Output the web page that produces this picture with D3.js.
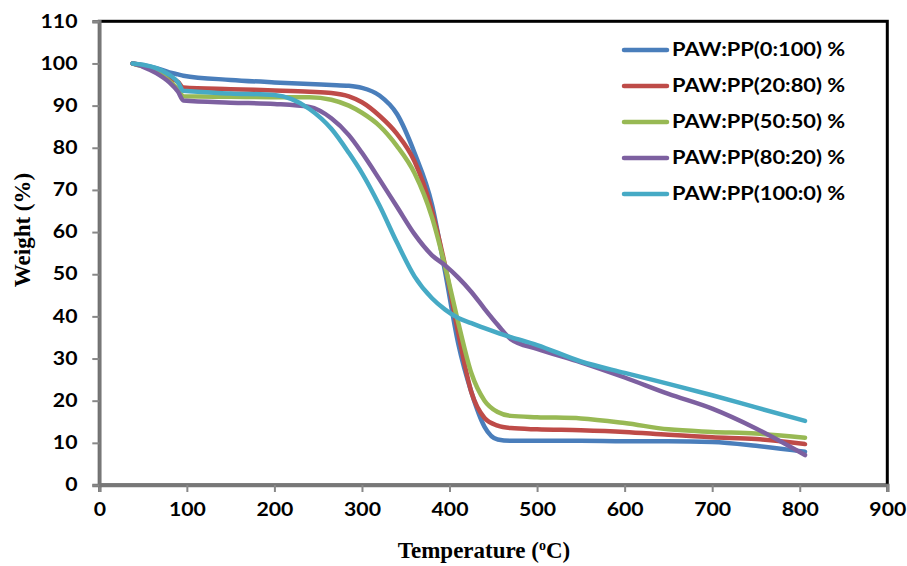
<!DOCTYPE html>
<html>
<head>
<meta charset="utf-8">
<script src="https://cdn.jsdelivr.net/npm/d3@7"></script>
<style>
    body { margin: 0; background: #fff; }
    svg { display: block; }
    .tick text { font-family: Lato, "Open Sans", sans-serif; font-weight: bold; font-size: 18px; fill: #000; }
    .legend text { font-family: Lato, "Open Sans", sans-serif; font-weight: bold; font-size: 18.5px; fill: #000; }
    .title { font-family: "Liberation Serif", "Times New Roman", serif; font-weight: bold; font-size: 23px; fill: #000; }
</style>
</head>
<body>
<div id="wrapper"></div>
<script>
// temperature (oC) sampled from the curves
const temps = [38, 50, 65, 80, 90, 96, 150, 200, 240, 265, 285, 300, 320, 340, 360, 380, 395,
    410, 425, 440, 455, 470, 500, 550, 600, 650, 700, 750, 806];

// weight (%) for each blend
const paw0 = [100, 99.6, 98.9, 97.9, 97.4, 97.1, 96.1, 95.5, 95.1, 94.9, 94.7, 94.2, 92.4, 88.0, 78.8, 66.5, 50.5,
    33.5, 22, 13.8, 10.8, 10.5, 10.5, 10.5, 10.4, 10.4, 10.2, 9.3, 7.9];
const paw20 = [100, 99.5, 98.3, 96.6, 95.6, 94.3, 93.9, 93.6, 93.3, 93.0, 92.2, 90.8, 87.6, 83.3, 76.8, 65, 52,
    36, 22, 15.9, 14.1, 13.5, 13.2, 13.0, 12.6, 11.9, 11.3, 10.9, 9.7];
const paw50 = [100, 99.3, 98.3, 95.8, 93.9, 92.2, 92.1, 92.0, 92.0, 91.4, 90.0, 88.3, 85.2, 80.4, 74, 63.5, 51.8,
    38.5, 26.5, 20, 17.3, 16.4, 16.1, 15.8, 14.7, 13.2, 12.6, 12.2, 11.2];
const paw80 = [100, 99.2, 97.7, 95.5, 93.3, 91.2, 90.7, 90.4, 89.7, 87, 83, 78.8, 72.5, 66, 59.5, 54.5, 52.1,
    49.2, 45.8, 41.8, 38.0, 34.6, 32.3, 29.1, 25.5, 21.6, 18.1, 13.4, 7.1];
const paw100 = [100, 99.7, 98.9, 97.3, 95.5, 93.5, 92.9, 92.5, 89.2, 84.5, 78.8, 74.0, 66.3, 57.5, 49.5, 44.3, 41.6,
    39.6, 38.4, 37.2, 36.1, 35.1, 33.2, 29.3, 26.6, 24.0, 21.3, 18.4, 15.2];

const seriesNames = ["PAW:PP(0:100) %", "PAW:PP(20:80) %", "PAW:PP(50:50) %", "PAW:PP(80:20) %", "PAW:PP(100:0) %"];
const seriesValues = [paw0, paw20, paw50, paw80, paw100];
const colors = ["#4a7ebb", "#be4b48", "#98b954", "#7d60a0", "#46aac5"];

const xTicks = d3.range(0, 901, 100);
const yTicks = d3.range(0, 111, 10);

// the original text is a little wide, stretch it
const stretch = 1.18;

var dimension = {
    width: 907,
    height: 566,
    margin: {
        top: 21.3,
        right: 19.7,
        bottom: 81,
        left: 99.3
    }
}
dimension.boundedWidth = dimension.width - dimension.margin.left - dimension.margin.right;
dimension.boundedHeight = dimension.height - dimension.margin.top - dimension.margin.bottom;

const x = d3.scaleLinear()
    .domain([0, 900])
    .range([dimension.margin.left, dimension.margin.left + dimension.boundedWidth]);
const y = d3.scaleLinear()
    .domain([0, 110])
    .range([dimension.margin.top + dimension.boundedHeight, dimension.margin.top]);

const svg = d3.select("#wrapper")
    .append("svg")
    .attr("width", dimension.width)
    .attr("height", dimension.height);

// plot frame (top/right black)
svg.append("rect")
    .attr("x", x(0))
    .attr("y", y(110))
    .attr("width", x(900) - x(0))
    .attr("height", y(0) - y(110))
    .attr("fill", "none")
    .attr("stroke", "#000")
    .attr("stroke-width", 3);

const xAxis = svg.append("g")
    .attr("transform", `translate(0,${y(0)})`)
    .call(d3.axisBottom(x).tickValues(xTicks).tickSize(7).tickPadding(9));

const yAxis = svg.append("g")
    .attr("transform", `translate(${x(0)},0)`)
    .call(d3.axisLeft(y).tickValues(yTicks).tickSize(7).tickPadding(11.5));

[xAxis, yAxis].forEach(a => {
    a.select(".domain").attr("stroke", "#777").attr("stroke-width", 3.5);
    a.selectAll(".tick line").attr("stroke", "#888").attr("stroke-width", 2);
    a.selectAll(".tick text").attr("transform", `scale(${stretch},1)`);
});
xAxis.selectAll(".tick text").attr("dy", "0.85em");

const line = d3.line()
    .x(d => x(d[0]))
    .y(d => y(d[1]))
    .curve(d3.curveMonotoneX);

svg.append("g")
    .selectAll("path")
    .data(seriesValues)
    .enter()
    .append("path")
    .attr("d", vals => line(vals.map((v, i) => [temps[i], v])))
    .attr("fill", "none")
    .attr("stroke", (d, i) => colors[i])
    .attr("stroke-width", 4.5)
    .attr("stroke-linecap", "round")
    .attr("stroke-linejoin", "round");

// legend
const legend = svg.append("g")
    .attr("class", "legend")
    .attr("transform", "translate(624,50)")
    .selectAll("g")
    .data(seriesNames)
    .enter()
    .append("g")
    .attr("transform", (d, i) => `translate(0,${i * 36})`);

legend.append("line")
    .attr("x1", 0)
    .attr("x2", 43)
    .attr("stroke", (d, i) => colors[i])
    .attr("stroke-width", 4.5)
    .attr("stroke-linecap", "round");

legend.append("text")
    .attr("transform", `translate(48,0) scale(${stretch},1)`)
    .attr("dy", "0.35em")
    .text(d => d);

// axis titles
svg.append("text")
    .attr("class", "title")
    .attr("transform", "translate(30,230) rotate(-90)")
    .style("text-anchor", "middle")
    .text("Weight (%)");

const xTitle = svg.append("text")
    .attr("class", "title")
    .attr("x", 484)
    .attr("y", 558)
    .style("text-anchor", "middle");
xTitle.append("tspan").text("Temperature (");
xTitle.append("tspan").attr("dy", -8).style("font-size", "14px").text("o");
xTitle.append("tspan").attr("dy", 8).text("C)");
</script>
</body>
</html>
